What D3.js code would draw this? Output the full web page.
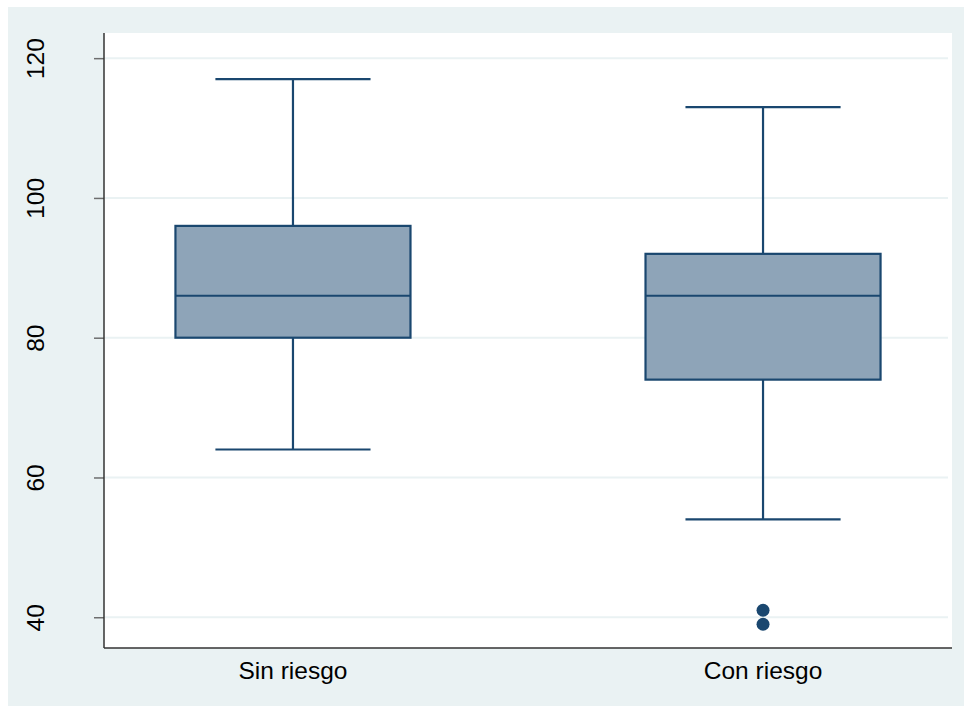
<!DOCTYPE html>
<html>
<head>
<meta charset="utf-8">
<script src="https://cdn.jsdelivr.net/npm/d3@7"></script>
<style>
  html, body { margin: 0; padding: 0; background: #fff; }
  svg { display: block; font-family: "Liberation Sans", Arial, sans-serif; }
</style>
</head>
<body>
<div id="chart"></div>
<script>
// Datos del gráfico
const groups = ["Sin riesgo", "Con riesgo"];
const whiskerLow = [64, 54];
const q1 = [80, 74];
const median = [86, 86];
const q3 = [96, 92];
const whiskerHigh = [117, 113];
const outliers = [[], [41, 39]];
const yTicks = [40, 60, 80, 100, 120];

const W = 964, H = 706;
const margin = { left: 104, right: 12, top: 33, bottom: 58 };

const svg = d3.select("#chart").append("svg")
    .attr("width", W)
    .attr("height", H);

// fondo exterior
svg.append("rect")
    .attr("x", 8).attr("y", 7)
    .attr("width", W - 8).attr("height", H - 7)
    .attr("fill", "#eaf2f3");

const x0 = margin.left, x1 = W - margin.right;
const y0 = H - margin.bottom, y1 = margin.top;

// área del gráfico
svg.append("rect")
    .attr("x", x0).attr("y", y1)
    .attr("width", x1 - x0).attr("height", y0 - y1)
    .attr("fill", "#fff");

const y = d3.scaleLinear().domain([35.6, 123.6]).range([y0, y1]);
const x = d3.scalePoint().domain(groups).range([x0, x1]).padding(0.402);
const step = x.step();
const boxW = step * 0.5;
const capW = step * 0.33;

// líneas de cuadrícula
svg.append("g")
    .selectAll("line")
    .data(yTicks)
    .join("line")
    .attr("x1", x0).attr("x2", x1 - 4)
    .attr("y1", d => y(d)).attr("y2", d => y(d))
    .attr("stroke", "#eaf2f3")
    .attr("stroke-width", 2);

// eje Y
const yAxis = svg.append("g")
    .attr("transform", `translate(${x0},0)`)
    .call(d3.axisLeft(y).tickValues(yTicks).tickSize(10).tickPadding(0).tickSizeOuter(0));
yAxis.select(".domain").remove();
yAxis.selectAll(".tick line").attr("stroke", "#6e6e6e").attr("stroke-width", 1.5);
yAxis.selectAll(".tick text")
    .attr("x", 0).attr("y", 0).attr("dy", 0)
    .attr("transform", "translate(-60,0) rotate(-90)")
    .attr("text-anchor", "middle")
    .attr("fill", "#000")
    .style("font-size", "24.5px");

svg.append("line")
    .attr("x1", x0).attr("x2", x0)
    .attr("y1", y1).attr("y2", y0)
    .attr("stroke", "#333").attr("stroke-width", 1.5);

// eje X
svg.append("line")
    .attr("x1", x0).attr("x2", x1)
    .attr("y1", y0).attr("y2", y0)
    .attr("stroke", "#333").attr("stroke-width", 1.5);

svg.append("g")
    .selectAll("text")
    .data(groups)
    .join("text")
    .attr("x", d => x(d))
    .attr("y", 679)
    .attr("text-anchor", "middle")
    .style("font-size", "24.5px")
    .attr("fill", "#000")
    .text(d => d);

// cajas
const stroke = "#1a476f";
const boxes = svg.append("g")
    .selectAll("g")
    .data(groups)
    .join("g");

boxes.append("line")
    .attr("x1", d => x(d)).attr("x2", d => x(d))
    .attr("y1", (d, i) => y(whiskerHigh[i])).attr("y2", (d, i) => y(q3[i]))
    .attr("stroke", stroke).attr("stroke-width", 2.2);
boxes.append("line")
    .attr("x1", d => x(d)).attr("x2", d => x(d))
    .attr("y1", (d, i) => y(q1[i])).attr("y2", (d, i) => y(whiskerLow[i]))
    .attr("stroke", stroke).attr("stroke-width", 2.2);
boxes.append("line")
    .attr("x1", d => x(d) - capW / 2).attr("x2", d => x(d) + capW / 2)
    .attr("y1", (d, i) => y(whiskerHigh[i])).attr("y2", (d, i) => y(whiskerHigh[i]))
    .attr("stroke", stroke).attr("stroke-width", 2.2);
boxes.append("line")
    .attr("x1", d => x(d) - capW / 2).attr("x2", d => x(d) + capW / 2)
    .attr("y1", (d, i) => y(whiskerLow[i])).attr("y2", (d, i) => y(whiskerLow[i]))
    .attr("stroke", stroke).attr("stroke-width", 2.2);
boxes.append("rect")
    .attr("x", d => x(d) - boxW / 2)
    .attr("width", boxW)
    .attr("y", (d, i) => y(q3[i]))
    .attr("height", (d, i) => y(q1[i]) - y(q3[i]))
    .attr("fill", "#8ea4b8")
    .attr("stroke", stroke).attr("stroke-width", 2.2);
boxes.append("line")
    .attr("x1", d => x(d) - boxW / 2).attr("x2", d => x(d) + boxW / 2)
    .attr("y1", (d, i) => y(median[i])).attr("y2", (d, i) => y(median[i]))
    .attr("stroke", stroke).attr("stroke-width", 2.2);

// valores atípicos
boxes.selectAll("circle")
    .data((d, i) => outliers[i].map(v => ({ g: d, v })))
    .join("circle")
    .attr("cx", d => x(d.g))
    .attr("cy", d => y(d.v))
    .attr("r", 6.5)
    .attr("fill", stroke);
</script>
</body>
</html>
